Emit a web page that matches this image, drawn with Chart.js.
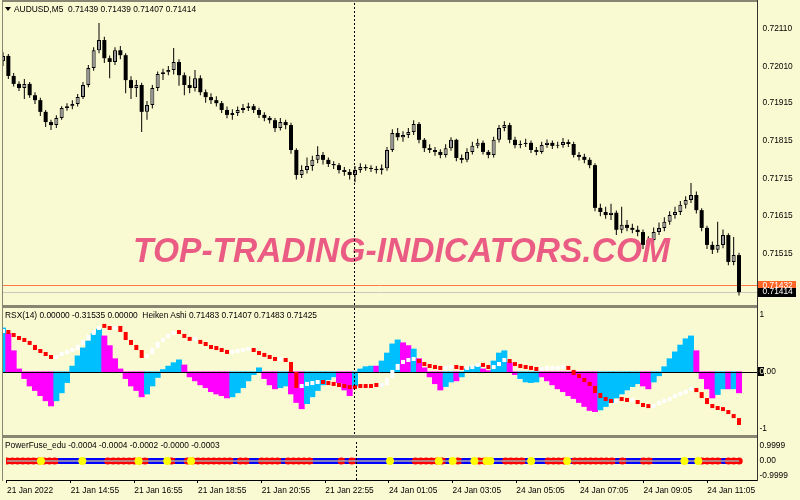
<!DOCTYPE html>
<html>
<head>
<meta charset="utf-8">
<script src="https://cdn.jsdelivr.net/npm/chart.js@4.4.1/dist/chart.umd.min.js"></script>
<style>
  html, body { margin: 0; padding: 0; background: #fafad2; }
  #wrap { position: relative; width: 800px; height: 500px; overflow: hidden; background: #fafad2;
          font-family: "Liberation Sans", Arial, sans-serif; }
  canvas { position: absolute; left: 2px; }
  .sep { position: absolute; left: 2px; width: 755px; background: #868672; }
  .lbl { position: absolute; font-size: 8.4px; line-height: 10px; color: #000; white-space: pre; }
</style>
</head>
<body>
<div id="wrap">
  <canvas id="main" width="798" height="302" style="top:3px"></canvas>
  <canvas id="rsx" width="798" height="127" style="top:308px"></canvas>
  <canvas id="pf" width="798" height="62" style="top:438px"></canvas>

  <div class="sep" style="top:0;height:2px"></div>
  <div class="sep" style="top:305px;height:3px"></div>
  <div class="sep" style="top:435px;height:3px"></div>
  <div style="position:absolute;left:2px;top:0;width:1px;height:481px;background:#868672"></div>
  <div style="position:absolute;left:757px;top:0;width:1px;height:481px;background:#333"></div>

  <div style="position:absolute;left:5px;top:7px;width:0;height:0;border-left:3px solid transparent;border-right:3px solid transparent;border-top:4px solid #000"></div>
  <div class="lbl" style="left:14px;top:4px">AUDUSD,M5  0.71439 0.71439 0.71407 0.71414</div>
  <div class="lbl" style="left:5px;top:310px">RSX(14) 0.00000 -0.31535 0.00000  Heiken Ashi 0.71483 0.71407 0.71483 0.71425</div>
  <div class="lbl" style="left:5px;top:440px">PowerFuse_edu -0.0004 -0.0004 -0.0002 -0.0000 -0.0003</div>
</div>
<script>
// time axis: one bar = 10 minutes, label every 12 bars
var timeLabels = ['21 Jan 2022', '21 Jan 14:55', '21 Jan 16:55', '21 Jan 18:55', '21 Jan 20:55', '21 Jan 22:55',
                  '24 Jan 01:05', '24 Jan 03:05', '24 Jan 05:05', '24 Jan 07:05', '24 Jan 09:05', '24 Jan 11:05'];
var timeTicks = [0, 12, 24, 36, 48, 60, 72, 84, 96, 108, 120, 132];
var sessionBreak = 65.75;

var priceTicks = [0.72110, 0.72010, 0.71915, 0.71815, 0.71715, 0.71615, 0.71515];
var askPrice = 0.71432;
var bidPrice = 0.71414;

var opens = [
  0.72025, 0.72039, 0.71986, 0.71965, 0.71954, 0.71965, 0.71935, 0.71922, 0.71891, 0.71864, 0.71856, 0.71875,
  0.71901, 0.71906, 0.71912, 0.71930, 0.71962, 0.72007, 0.72054, 0.72081, 0.72033, 0.72023, 0.72054, 0.72041,
  0.71975, 0.71954, 0.71962, 0.71891, 0.71909, 0.71954, 0.71991, 0.71996, 0.72002, 0.72023, 0.71988, 0.71962,
  0.71954, 0.71980, 0.71943, 0.71930, 0.71922, 0.71914, 0.71896, 0.71883, 0.71888, 0.71896, 0.71901, 0.71906,
  0.71896, 0.71883, 0.71875, 0.71869, 0.71848, 0.71864, 0.71856, 0.71790, 0.71724, 0.71737, 0.71748, 0.71764,
  0.71777, 0.71764, 0.71753, 0.71750, 0.71737, 0.71732, 0.71724, 0.71737, 0.71745, 0.71742, 0.71740, 0.71737,
  0.71742, 0.71790, 0.71835, 0.71824, 0.71830, 0.71838, 0.71859, 0.71817, 0.71795, 0.71790, 0.71785, 0.71777,
  0.71795, 0.71817, 0.71769, 0.71764, 0.71785, 0.71801, 0.71809, 0.71785, 0.71777, 0.71817, 0.71848, 0.71856,
  0.71817, 0.71803, 0.71806, 0.71809, 0.71790, 0.71785, 0.71803, 0.71809, 0.71801, 0.71803, 0.71811, 0.71806,
  0.71777, 0.71772, 0.71764, 0.71750, 0.71637, 0.71626, 0.71618, 0.71624, 0.71579, 0.71592, 0.71584, 0.71579,
  0.71573, 0.71539, 0.71552, 0.71573, 0.71584, 0.71600, 0.71618, 0.71626, 0.71645, 0.71658, 0.71671, 0.71631,
  0.71584, 0.71539, 0.71526, 0.71539, 0.71565, 0.71494, 0.71512
];
var highs = [
  0.72049, 0.72044, 0.71994, 0.71972, 0.71978, 0.71970, 0.71943, 0.71928, 0.71896, 0.71870, 0.71882, 0.71906,
  0.71914, 0.71922, 0.71938, 0.71970, 0.72015, 0.72062, 0.72126, 0.72090, 0.72040, 0.72062, 0.72065, 0.72046,
  0.71985, 0.71975, 0.71968, 0.71920, 0.71962, 0.71998, 0.72005, 0.72012, 0.72060, 0.72030, 0.71995, 0.71985,
  0.72002, 0.71988, 0.71950, 0.71940, 0.71932, 0.71920, 0.71905, 0.71898, 0.71905, 0.71912, 0.71915, 0.71912,
  0.71902, 0.71890, 0.71880, 0.71875, 0.71875, 0.71870, 0.71862, 0.71795, 0.71750, 0.71770, 0.71775, 0.71800,
  0.71785, 0.71770, 0.71760, 0.71756, 0.71745, 0.71740, 0.71748, 0.71755, 0.71752, 0.71750, 0.71748, 0.71752,
  0.71798, 0.71845, 0.71848, 0.71840, 0.71848, 0.71869, 0.71864, 0.71822, 0.71805, 0.71798, 0.71792, 0.71805,
  0.71824, 0.71820, 0.71778, 0.71795, 0.71812, 0.71820, 0.71815, 0.71790, 0.71825, 0.71856, 0.71866, 0.71862,
  0.71825, 0.71815, 0.71820, 0.71815, 0.71798, 0.71812, 0.71818, 0.71815, 0.71812, 0.71822, 0.71818, 0.71812,
  0.71785, 0.71780, 0.71770, 0.71755, 0.71648, 0.71640, 0.71648, 0.71630, 0.71640, 0.71605, 0.71595, 0.71590,
  0.71580, 0.71562, 0.71585, 0.71598, 0.71612, 0.71628, 0.71640, 0.71655, 0.71668, 0.71703, 0.71680, 0.71636,
  0.71590, 0.71548, 0.71600, 0.71580, 0.71570, 0.71560, 0.71518
];
var lows = [
  0.72012, 0.71978, 0.71958, 0.71946, 0.71925, 0.71928, 0.71912, 0.71880, 0.71851, 0.71843, 0.71848, 0.71870,
  0.71894, 0.71898, 0.71905, 0.71925, 0.71956, 0.72000, 0.72046, 0.72020, 0.71980, 0.72015, 0.72030, 0.71940,
  0.71925, 0.71930, 0.71838, 0.71870, 0.71900, 0.71946, 0.71975, 0.71988, 0.71990, 0.71960, 0.71935, 0.71940,
  0.71945, 0.71935, 0.71915, 0.71912, 0.71905, 0.71888, 0.71874, 0.71870, 0.71880, 0.71888, 0.71893, 0.71888,
  0.71875, 0.71866, 0.71860, 0.71838, 0.71842, 0.71845, 0.71780, 0.71712, 0.71716, 0.71728, 0.71735, 0.71755,
  0.71752, 0.71745, 0.71740, 0.71728, 0.71722, 0.71712, 0.71705, 0.71730, 0.71735, 0.71732, 0.71728, 0.71725,
  0.71735, 0.71785, 0.71815, 0.71812, 0.71822, 0.71830, 0.71808, 0.71785, 0.71782, 0.71775, 0.71768, 0.71770,
  0.71788, 0.71760, 0.71755, 0.71758, 0.71778, 0.71795, 0.71778, 0.71768, 0.71770, 0.71810, 0.71840, 0.71808,
  0.71795, 0.71795, 0.71798, 0.71782, 0.71776, 0.71780, 0.71796, 0.71793, 0.71795, 0.71796, 0.71798, 0.71770,
  0.71762, 0.71755, 0.71742, 0.71628, 0.71615, 0.71608, 0.71605, 0.71565, 0.71570, 0.71575, 0.71570, 0.71562,
  0.71528, 0.71530, 0.71545, 0.71565, 0.71575, 0.71592, 0.71608, 0.71618, 0.71635, 0.71650, 0.71622, 0.71575,
  0.71528, 0.71515, 0.71518, 0.71530, 0.71485, 0.71485, 0.71405
];
var closes = [
  0.72039, 0.71986, 0.71965, 0.71954, 0.71965, 0.71935, 0.71922, 0.71891, 0.71864, 0.71856, 0.71875, 0.71901,
  0.71906, 0.71912, 0.71930, 0.71962, 0.72007, 0.72054, 0.72081, 0.72033, 0.72023, 0.72054, 0.72041, 0.71975,
  0.71954, 0.71962, 0.71891, 0.71909, 0.71954, 0.71991, 0.71996, 0.72002, 0.72023, 0.71988, 0.71962, 0.71954,
  0.71980, 0.71943, 0.71930, 0.71922, 0.71914, 0.71896, 0.71883, 0.71888, 0.71896, 0.71901, 0.71906, 0.71896,
  0.71883, 0.71875, 0.71869, 0.71848, 0.71864, 0.71856, 0.71790, 0.71724, 0.71737, 0.71748, 0.71764, 0.71777,
  0.71764, 0.71753, 0.71750, 0.71737, 0.71732, 0.71724, 0.71737, 0.71745, 0.71742, 0.71740, 0.71737, 0.71742,
  0.71790, 0.71835, 0.71824, 0.71830, 0.71838, 0.71859, 0.71817, 0.71795, 0.71790, 0.71785, 0.71777, 0.71795,
  0.71817, 0.71769, 0.71764, 0.71785, 0.71801, 0.71809, 0.71785, 0.71777, 0.71817, 0.71848, 0.71856, 0.71817,
  0.71803, 0.71806, 0.71809, 0.71790, 0.71785, 0.71803, 0.71809, 0.71801, 0.71803, 0.71811, 0.71806, 0.71777,
  0.71772, 0.71764, 0.71750, 0.71637, 0.71626, 0.71618, 0.71624, 0.71579, 0.71592, 0.71584, 0.71579, 0.71573,
  0.71539, 0.71552, 0.71573, 0.71584, 0.71600, 0.71618, 0.71626, 0.71645, 0.71658, 0.71671, 0.71631, 0.71584,
  0.71539, 0.71526, 0.71539, 0.71565, 0.71494, 0.71512, 0.71414
];

// RSX histogram, 1 = rising (blue), 0 = falling (magenta)
var rsx = [
  0.77, 0.67, 0.37, 0.05, -0.12, -0.25, -0.33, -0.42, -0.51, -0.60, -0.51, -0.37,
  -0.19, 0.10, 0.28, 0.42, 0.54, 0.67, 0.75, 0.63, 0.46, 0.23, 0.05, -0.12,
  -0.25, -0.33, -0.44, -0.39, -0.25, -0.10, 0.04, 0.10, 0.16, 0.21, 0.12, -0.09,
  -0.16, -0.23, -0.28, -0.35, -0.39, -0.42, -0.46, -0.44, -0.37, -0.28, -0.16, -0.05,
  0.07, -0.12, -0.23, -0.30, -0.28, -0.25, -0.39, -0.54, -0.65, -0.56, -0.44, -0.33,
  -0.23, -0.14, -0.09, -0.19, -0.32, -0.42, -0.25, 0.05, 0.09, 0.10, 0.10, 0.19,
  0.33, 0.49, 0.56, 0.51, 0.46, 0.40, 0.23, 0.07, -0.09, -0.21, -0.32, -0.26,
  -0.18, -0.16, -0.09, 0.05, 0.09, 0.10, 0.05, 0.02, 0.19, 0.33, 0.37, 0.16,
  -0.05, -0.12, -0.18, -0.19, -0.18, -0.09, -0.16, -0.23, -0.30, -0.35, -0.42, -0.47,
  -0.54, -0.61, -0.68, -0.70, -0.67, -0.61, -0.54, -0.46, -0.39, -0.32, -0.26, -0.21,
  -0.25, -0.30, -0.18, -0.07, 0.09, 0.23, 0.35, 0.47, 0.58, 0.63, 0.37, -0.12,
  -0.30, -0.46, -0.40, -0.30, -0.30, -0.30, -0.37
];
var rsxUp = [
  1, 0, 0, 0, 0, 0, 0, 0, 0, 0, 1, 1,
  1, 1, 1, 1, 1, 1, 1, 0, 0, 0, 0, 0,
  0, 0, 0, 1, 1, 1, 1, 1, 1, 1, 0, 0,
  0, 0, 0, 0, 0, 0, 0, 1, 1, 1, 1, 1,
  1, 0, 0, 0, 1, 1, 0, 0, 0, 1, 1, 1,
  1, 1, 1, 0, 0, 0, 1, 1, 1, 1, 0, 1,
  1, 1, 1, 0, 0, 1, 0, 0, 0, 0, 0, 1,
  1, 0, 1, 1, 1, 1, 0, 0, 1, 1, 1, 0,
  0, 1, 1, 1, 1, 0, 0, 0, 0, 0, 0, 0,
  0, 0, 0, 0, 1, 1, 1, 1, 1, 1, 1, 1,
  0, 0, 1, 1, 1, 1, 1, 1, 1, 1, 0, 0,
  0, 0, 1, 1, 0, 1, 0
];

// Heiken Ashi drawn in the RSX window on its own price scale
var haOpen = [
  0.72053, 0.72073, 0.72046, 0.72026, 0.72006, 0.71993, 0.71973, 0.71939, 0.71919, 0.71899, 0.71879, 0.71899,
  0.71913, 0.71926, 0.71939, 0.71973, 0.72006, 0.72040, 0.72073, 0.72100, 0.72087, 0.72073, 0.72100, 0.72060,
  0.72006, 0.71973, 0.71939, 0.71886, 0.71913, 0.71953, 0.71993, 0.72020, 0.72040, 0.72060, 0.72046, 0.72020,
  0.72000, 0.72006, 0.71980, 0.71966, 0.71946, 0.71939, 0.71926, 0.71913, 0.71919, 0.71926, 0.71933, 0.71939,
  0.71926, 0.71906, 0.71893, 0.71879, 0.71866, 0.71873, 0.71859, 0.71792, 0.71685, 0.71699, 0.71705, 0.71712,
  0.71719, 0.71712, 0.71705, 0.71699, 0.71692, 0.71685, 0.71685, 0.71692, 0.71692, 0.71692, 0.71699, 0.71692,
  0.71705, 0.71752, 0.71806, 0.71846, 0.71859, 0.71866, 0.71873, 0.71852, 0.71832, 0.71819, 0.71812, 0.71806,
  0.71812, 0.71826, 0.71812, 0.71806, 0.71812, 0.71826, 0.71832, 0.71826, 0.71812, 0.71832, 0.71859, 0.71873,
  0.71852, 0.71832, 0.71819, 0.71812, 0.71806, 0.71799, 0.71806, 0.71806, 0.71806, 0.71812, 0.71819, 0.71806,
  0.71772, 0.71752, 0.71725, 0.71699, 0.71652, 0.71618, 0.71598, 0.71585, 0.71605, 0.71598, 0.71592, 0.71605,
  0.71578, 0.71558, 0.71551, 0.71571, 0.71585, 0.71598, 0.71618, 0.71632, 0.71645, 0.71665, 0.71685, 0.71658,
  0.71618, 0.71578, 0.71551, 0.71538, 0.71531, 0.71511, 0.71484
];
var haClose = [
  0.72073, 0.72046, 0.72026, 0.72006, 0.71993, 0.71973, 0.71939, 0.71919, 0.71899, 0.71879, 0.71899, 0.71913,
  0.71926, 0.71939, 0.71973, 0.72006, 0.72040, 0.72073, 0.72100, 0.72087, 0.72073, 0.72100, 0.72060, 0.72006,
  0.71973, 0.71939, 0.71886, 0.71913, 0.71953, 0.71993, 0.72020, 0.72040, 0.72060, 0.72046, 0.72020, 0.72000,
  0.72006, 0.71980, 0.71966, 0.71946, 0.71939, 0.71926, 0.71913, 0.71919, 0.71926, 0.71933, 0.71939, 0.71926,
  0.71906, 0.71893, 0.71879, 0.71866, 0.71873, 0.71859, 0.71792, 0.71685, 0.71699, 0.71705, 0.71712, 0.71719,
  0.71712, 0.71705, 0.71699, 0.71692, 0.71685, 0.71678, 0.71678, 0.71685, 0.71685, 0.71685, 0.71692, 0.71705,
  0.71752, 0.71806, 0.71846, 0.71859, 0.71866, 0.71873, 0.71852, 0.71832, 0.71819, 0.71812, 0.71806, 0.71812,
  0.71826, 0.71812, 0.71806, 0.71812, 0.71826, 0.71832, 0.71826, 0.71812, 0.71832, 0.71859, 0.71873, 0.71852,
  0.71832, 0.71819, 0.71812, 0.71806, 0.71799, 0.71806, 0.71812, 0.71812, 0.71812, 0.71819, 0.71806, 0.71772,
  0.71752, 0.71725, 0.71699, 0.71652, 0.71618, 0.71598, 0.71585, 0.71605, 0.71598, 0.71592, 0.71605, 0.71578,
  0.71558, 0.71551, 0.71571, 0.71585, 0.71598, 0.71618, 0.71632, 0.71645, 0.71665, 0.71685, 0.71658, 0.71618,
  0.71578, 0.71551, 0.71538, 0.71531, 0.71511, 0.71484, 0.71438
];

// PowerFuse: 1 = blue state, 0 = red state, plus yellow signal bars
var pfBlue = [
  0, 0, 0, 0, 0, 0, 0, 0, 0, 0, 1, 1,
  1, 1, 1, 1, 1, 1, 1, 0, 0, 0, 0, 0,
  0, 0, 0, 1, 1, 1, 1, 0, 1, 1, 0, 0,
  0, 0, 0, 0, 0, 0, 0, 1, 0, 0, 1, 1,
  0, 0, 0, 0, 1, 0, 0, 0, 0, 0, 1, 1,
  1, 1, 1, 0, 1, 0, 1, 1, 1, 1, 1, 1,
  1, 1, 1, 1, 1, 0, 0, 0, 0, 0, 0, 1,
  1, 0, 1, 1, 1, 0, 0, 1, 1, 1, 0, 0,
  0, 0, 1, 1, 1, 1, 0, 0, 0, 0, 1, 0,
  0, 0, 0, 0, 0, 0, 0, 1, 0, 1, 1, 1,
  0, 0, 1, 1, 1, 1, 1, 1, 1, 1, 1, 0,
  0, 0, 0, 1, 0, 0, 0
];
var pfSignals = [6.4, 14.2, 24.8, 30.2, 34.7, 72.2, 81.4, 84, 88.1, 90.4, 91.1, 98.8, 105.6, 127.7, 130.3];
var pfLevel = 0;

var xMin = -0.1875, xMax = 141.375;
var cream = '#fafad2';

Chart.defaults.font.family = '"Liberation Sans", Arial, sans-serif';
Chart.defaults.font.size = 8.4;
Chart.defaults.color = '#000';

var xHidden = { type: 'linear', display: false, min: xMin, max: xMax, offset: false, grid: { offset: false } };

var rightAxis = function(min, max, ticks, labels, pad) {
  return {
    position: 'right', min: min, max: max,
    grid: { display: false, drawTicks: false }, border: { display: false },
    afterFit: function(s) { s.width = 43; s.paddingTop = 0; s.paddingBottom = 0; },
    afterBuildTicks: function(s) { s.ticks = ticks.map(function(v) { return { value: v }; }); },
    ticks: { autoSkip: false, padding: pad, color: '#000',
             callback: function(v, i) { return labels[i]; } }
  };
};

var baseOptions = function(scales) {
  return {
    responsive: false, animation: false, events: [],
    layout: { padding: 0 },
    plugins: { legend: { display: false }, tooltip: { enabled: false } },
    scales: scales
  };
};

var sessionLine = {
  id: 'sessionLine',
  afterDraw: function(chart) {
    var a = chart.chartArea, ctx = chart.ctx;
    var x = Math.round(chart.scales.x.getPixelForValue(sessionBreak)) + 0.5;
    ctx.save();
    ctx.strokeStyle = '#000';
    ctx.lineWidth = 1;
    ctx.setLineDash([2, 2]);
    ctx.beginPath();
    ctx.moveTo(x, a.top);
    ctx.lineTo(x, a.bottom);
    ctx.stroke();
    ctx.restore();
  }
};

var priceMarks = {
  id: 'priceMarks',
  beforeDatasetsDraw: function(chart) {
    var a = chart.chartArea, ctx = chart.ctx, y = chart.scales.y;
    ctx.save();
    ctx.lineWidth = 1;
    ctx.strokeStyle = '#c8c8bc';
    var yb = Math.round(y.getPixelForValue(bidPrice)) + 0.5;
    ctx.beginPath(); ctx.moveTo(a.left, yb); ctx.lineTo(a.right, yb); ctx.stroke();
    ctx.strokeStyle = '#ff7a40';
    var ya = Math.round(y.getPixelForValue(askPrice)) + 0.5;
    ctx.beginPath(); ctx.moveTo(a.left, ya); ctx.lineTo(a.right, ya); ctx.stroke();
    ctx.restore();
  },
  afterDatasetsDraw: function(chart) {
    // watermark
    var ctx = chart.ctx;
    var text = 'TOP-TRADING-INDICATORS.COM';
    ctx.save();
    ctx.font = 'italic bold 35px "Liberation Sans", Arial, sans-serif';
    var w = ctx.measureText(text).width;
    ctx.translate(399.5, 259);
    ctx.scale(537 / w, 1);
    ctx.textAlign = 'center';
    ctx.textBaseline = 'alphabetic';
    ctx.fillStyle = '#ea5c84';
    ctx.fillText(text, 0, 0);
    ctx.restore();
  },
  afterDraw: function(chart) {
    var ctx = chart.ctx, y = chart.scales.y;
    var left = chart.chartArea.right + 1;
    ctx.save();
    ctx.font = '8.4px "Liberation Sans", Arial, sans-serif';
    ctx.textBaseline = 'middle';
    ctx.textAlign = 'left';
    var ya = y.getPixelForValue(askPrice);
    ctx.fillStyle = '#ff6628';
    ctx.fillRect(left, Math.round(ya - 4.5), 38, 9);
    ctx.fillStyle = '#fff';
    ctx.fillText(askPrice.toFixed(5), left + 4.5, ya);
    var yb = y.getPixelForValue(bidPrice);
    ctx.fillStyle = '#000';
    ctx.fillRect(left, Math.round(yb - 4.5), 38, 9);
    ctx.fillStyle = '#fff';
    ctx.fillText(bidPrice.toFixed(5), left + 4.5, yb);
    ctx.restore();
  }
};

new Chart(document.getElementById('main'), {
  type: 'bar',
  data: {
    datasets: [
      {
        label: 'bodies', order: 1, grouped: false,
        data: opens.map(function(o, i) { return { x: i, y: [o, closes[i]] }; }),
        backgroundColor: opens.map(function(o, i) { return closes[i] >= o ? '#969696' : '#000'; }),
        borderColor: '#000',
        borderWidth: opens.map(function(o, i) { return closes[i] >= o ? 1 : 0; }),
        borderSkipped: false, barThickness: 4, minBarLength: 1, inflateAmount: 0
      },
      {
        label: 'wicks', order: 2, grouped: false,
        data: lows.map(function(l, i) { return { x: i, y: [l, highs[i]] }; }),
        backgroundColor: '#000', barThickness: 1, inflateAmount: 0
      }
    ]
  },
  options: baseOptions({
    x: xHidden,
    y: rightAxis(0.71380, 0.72179, priceTicks, priceTicks.map(function(v) { return v.toFixed(5); }), 5.5)
  }),
  plugins: [priceMarks, sessionLine]
});

var rsxMarks = {
  id: 'rsxMarks',
  afterDatasetDraw: function(chart, args) {
    if (args.index !== 0) return;
    var a = chart.chartArea, ctx = chart.ctx;
    var y0 = Math.round(chart.scales.y.getPixelForValue(0)) + 0.5;
    ctx.save();
    ctx.strokeStyle = '#000';
    ctx.lineWidth = 1;
    ctx.beginPath(); ctx.moveTo(a.left, y0); ctx.lineTo(a.right, y0); ctx.stroke();
    ctx.restore();
  },
  afterDraw: function(chart) {
    var ctx = chart.ctx;
    var y0 = chart.scales.y.getPixelForValue(0);
    var left = chart.chartArea.right + 1;
    ctx.save();
    ctx.fillStyle = '#000';
    ctx.fillRect(left, Math.round(y0 - 4.5), 6, 9);
    ctx.font = '8.4px "Liberation Sans", Arial, sans-serif';
    ctx.textBaseline = 'middle';
    ctx.textAlign = 'left';
    ctx.fillStyle = cream;
    ctx.fillText('0', chart.chartArea.right + 2.5, y0);
    ctx.restore();
  }
};

new Chart(document.getElementById('rsx'), {
  type: 'bar',
  data: {
    datasets: [
      {
        label: 'RSX', order: 3, grouped: false,
        data: rsx.map(function(v, i) { return { x: i, y: v }; }),
        backgroundColor: rsxUp.map(function(u) { return u ? '#00bfff' : '#ff00ff'; }),
        borderWidth: 0, barPercentage: 1, categoryPercentage: 1
      },
      {
        label: 'Heiken Ashi', order: 1, grouped: false, yAxisID: 'yha',
        data: haOpen.map(function(o, i) { return { x: i, y: [o, haClose[i]] }; }),
        backgroundColor: haOpen.map(function(o, i) { return haClose[i] < o ? '#ff0000' : '#ffffff'; }),
        borderWidth: 0, barThickness: 4, minBarLength: 4, inflateAmount: 0
      }
    ]
  },
  options: baseOptions({
    x: xHidden,
    y: rightAxis(-1.11, 1.12, [1, 0, -1], ['1', '0.00', '-1'], 2.5),
    yha: { display: false, min: 0.71371, max: 0.72220 }
  }),
  plugins: [rsxMarks, sessionLine]
});

new Chart(document.getElementById('pf'), {
  type: 'line',
  data: {
    datasets: [
      {
        label: 'signals', order: 1, showLine: false,
        data: pfSignals.map(function(s) { return { x: s, y: pfLevel }; }),
        pointRadius: 4, pointBackgroundColor: '#ffff00', pointBorderWidth: 0
      },
      {
        label: 'mid', order: 2,
        data: pfBlue.map(function(b, i) { return { x: i, y: pfLevel }; }),
        borderColor: '#a8a8a8', borderWidth: 1.5, pointRadius: 0
      },
      {
        label: 'PowerFuse', order: 3,
        data: pfBlue.map(function(b, i) { return { x: i, y: pfLevel }; }),
        borderWidth: 6, borderCapStyle: 'round',
        segment: { borderColor: function(c) { return pfBlue[c.p0DataIndex] ? '#0000ff' : '#ff0000'; } },
        pointRadius: pfBlue.map(function(b) { return b ? 0 : 3.6; }),
        pointBackgroundColor: '#ff0000', pointBorderWidth: 0
      }
    ]
  },
  options: baseOptions({
    x: {
      type: 'linear', min: xMin, max: xMax, offset: false,
      afterFit: function(s) { s.height = 20; s.paddingLeft = 0; s.paddingRight = 0; },
      afterBuildTicks: function(s) { s.ticks = timeTicks.map(function(v) { return { value: v }; }); },
      grid: { display: true, drawOnChartArea: false, drawTicks: true, tickLength: 3, color: '#000' },
      border: { display: true, color: '#000' },
      ticks: { align: 'start', autoSkip: false, maxRotation: 0, minRotation: 0, padding: 3, color: '#000',
               callback: function(v, i) { return timeLabels[i]; } }
    },
    y: rightAxis(-1.27, 1.27, [0.9999, 0, -0.9999], ['0.9999', '0.00', '-0.9999'], 2.5)
  }),
  plugins: [sessionLine]
});
</script>
</body>
</html>
